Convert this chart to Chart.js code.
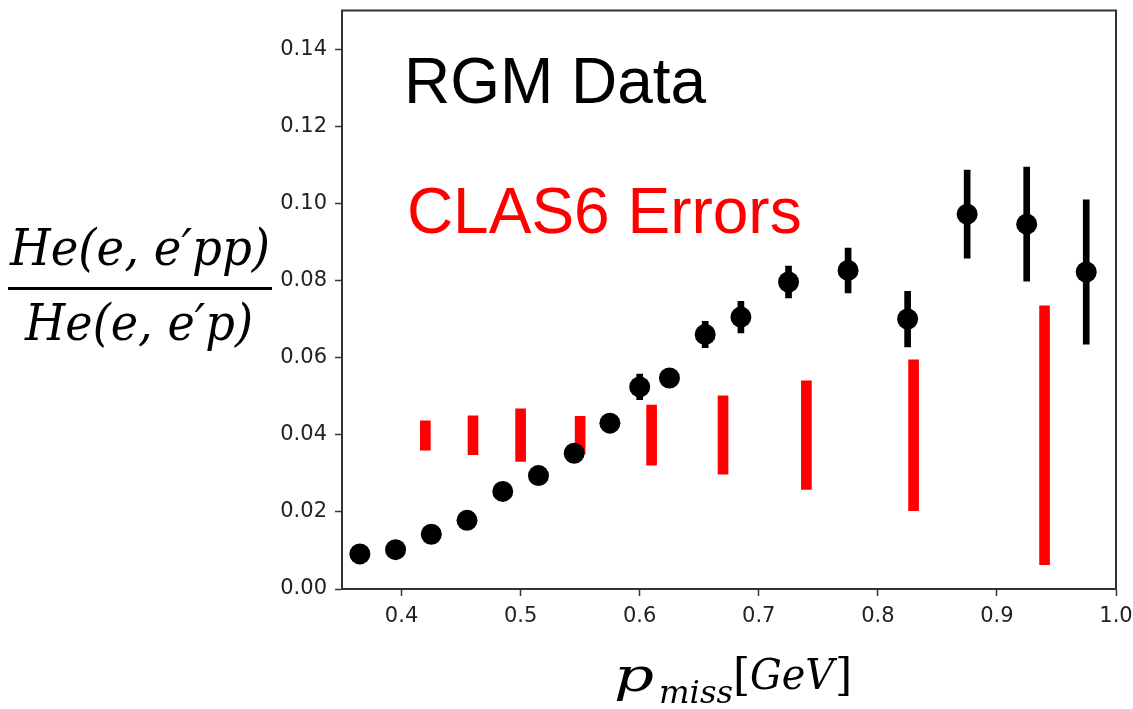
<!DOCTYPE html>
<html>
<head>
<meta charset="utf-8">
<script src="https://cdn.jsdelivr.net/npm/chart.js@4.4.1/dist/chart.umd.min.js"></script>
<style>
  html, body { margin: 0; padding: 0; background: #fff; }
  #wrap { width: 1133px; height: 709px; }
</style>
</head>
<body>
<div id="wrap"><canvas id="chart" width="1133" height="709"></canvas></div>
<script>
// RGM data points (ratio pp / p) with statistical errors
const pmiss = [0.365, 0.395, 0.425, 0.455, 0.485, 0.515, 0.545, 0.575, 0.600, 0.625, 0.655, 0.685, 0.725, 0.775, 0.825, 0.875, 0.925, 0.975];
const ratio = [0.0091, 0.0102, 0.0142, 0.0178, 0.0253, 0.0294, 0.0352, 0.0430, 0.0524, 0.0547, 0.0660, 0.0705, 0.0796, 0.0826, 0.0700, 0.0972, 0.0946, 0.0822];
const ratioErr = [0.0010, 0.0010, 0.0012, 0.0013, 0.0015, 0.0016, 0.0018, 0.0020, 0.0033, 0.0025, 0.0034, 0.0041, 0.0041, 0.0058, 0.0072, 0.0114, 0.0148, 0.0187];

// CLAS6 error ranges
const clasX = [0.42, 0.46, 0.50, 0.55, 0.61, 0.67, 0.74, 0.83, 0.94];
const clasLow = [0.0360, 0.0348, 0.0331, 0.0350, 0.0321, 0.0298, 0.0258, 0.0203, 0.0063];
const clasHigh = [0.0436, 0.0449, 0.0467, 0.0448, 0.0477, 0.0501, 0.0540, 0.0594, 0.0734];

// axis ticks
const xTicks = [0.4, 0.5, 0.6, 0.7, 0.8, 0.9, 1.0];
const yTicks = [0.00, 0.02, 0.04, 0.06, 0.08, 0.10, 0.12, 0.14];

const noteData = 'RGM Data';
const noteClas = 'CLAS6 Errors';

const points = pmiss.map((x, i) => ({ x: x, y: ratio[i] }));
const errBars = pmiss.map((x, i) => ({ x: x, y: [ratio[i] - ratioErr[i], ratio[i] + ratioErr[i]] }));
const clasBars = clasX.map((x, i) => ({ x: x, y: [clasLow[i], clasHigh[i]] }));

// draw text squeezed/stretched to a given width
function fitText(c, text, x, y, width) {
  const w = c.measureText(text).width;
  c.save();
  c.translate(x, y);
  c.scale(width / w, 1);
  c.fillText(text, 0, 0);
  c.restore();
}

const decorPlugin = {
  id: 'decor',
  afterDraw(chart) {
    const c = chart.ctx;
    const a = chart.chartArea;
    const xs = chart.scales.x, ys = chart.scales.y;
    c.save();
    // full box round the plot
    c.strokeStyle = '#333';
    c.lineWidth = 2;
    c.strokeRect(a.left, a.top, a.right - a.left, a.bottom - a.top);

    // text notes inside the plot
    c.textAlign = 'left';
    c.textBaseline = 'alphabetic';
    c.font = '64px "Liberation Sans", Arial, sans-serif';
    c.fillStyle = '#000';
    c.fillText(noteData, xs.getPixelForValue(0.402), ys.getPixelForValue(0.1261));
    c.fillStyle = '#ff0000';
    c.fillText(noteClas, xs.getPixelForValue(0.4045), ys.getPixelForValue(0.0922));

    // y title as a fraction
    c.fillStyle = '#000';
    c.font = 'italic 50px "DejaVu Serif", serif';
    fitText(c, 'He(e, e\u2032pp)', 10, 265, 260);
    fitText(c, 'He(e, e\u2032p)', 25, 340, 228);
    c.fillRect(8, 287, 264, 3);

    // x title
    c.font = 'italic 46px "DejaVu Serif", serif';
    fitText(c, 'p', 614, 691, 40);
    c.font = 'italic 31px "DejaVu Serif", serif';
    fitText(c, 'miss', 659, 703, 74);
    c.font = '44px "DejaVu Serif", serif';
    c.fillText('[', 733, 690);
    c.fillText(']', 835, 690);
    c.font = 'italic 42px "DejaVu Serif", serif';
    fitText(c, 'GeV', 750, 689, 84);
    c.restore();
  }
};

const tickFont = { family: '"DejaVu Sans", sans-serif', size: 21 };

new Chart(document.getElementById('chart').getContext('2d'), {
  type: 'scatter',
  data: {
    datasets: [
      {
        type: 'scatter',
        label: noteData,
        data: points,
        pointRadius: 10.5,
        pointHoverRadius: 10.5,
        backgroundColor: '#000',
        borderWidth: 0,
        order: 0
      },
      {
        type: 'bar',
        label: 'RGM errors',
        data: errBars,
        backgroundColor: '#000',
        barThickness: 6,
        grouped: false,
        order: 1
      },
      {
        type: 'bar',
        label: noteClas,
        data: clasBars,
        backgroundColor: '#ff0000',
        barThickness: 10,
        grouped: false,
        order: 2
      }
    ]
  },
  options: {
    responsive: false,
    animation: false,
    devicePixelRatio: 1,
    layout: { padding: { top: 10, right: 17, left: 0, bottom: 0 } },
    plugins: { legend: { display: false }, tooltip: { enabled: false } },
    scales: {
      x: {
        type: 'linear',
        min: 0.35,
        max: 1.0,
        offset: false,
        afterFit: s => { s.height = 120; s.paddingLeft = 0; s.paddingRight = 0; },
        afterBuildTicks: s => { s.ticks = xTicks.map(v => ({ value: v })); },
        ticks: { font: tickFont, color: '#222', padding: 8, maxRotation: 0, callback: v => Number(v).toFixed(1) },
        grid: { display: true, drawOnChartArea: false, drawTicks: true, tickLength: 7, tickWidth: 1.5, tickColor: '#333', offset: false },
        border: { display: true, color: '#333', width: 2 }
      },
      y: {
        type: 'linear',
        min: 0,
        max: 0.15,
        afterFit: s => { s.width = 342; s.paddingTop = 0; s.paddingBottom = 0; },
        afterBuildTicks: s => { s.ticks = yTicks.map(v => ({ value: v })); },
        ticks: { font: tickFont, color: '#222', padding: 8, callback: v => Number(v).toFixed(2) },
        grid: { display: true, drawOnChartArea: false, drawTicks: true, tickLength: 7, tickWidth: 1.5, tickColor: '#333' },
        border: { display: true, color: '#333', width: 2 }
      }
    }
  },
  plugins: [decorPlugin]
});
</script>
</body>
</html>
